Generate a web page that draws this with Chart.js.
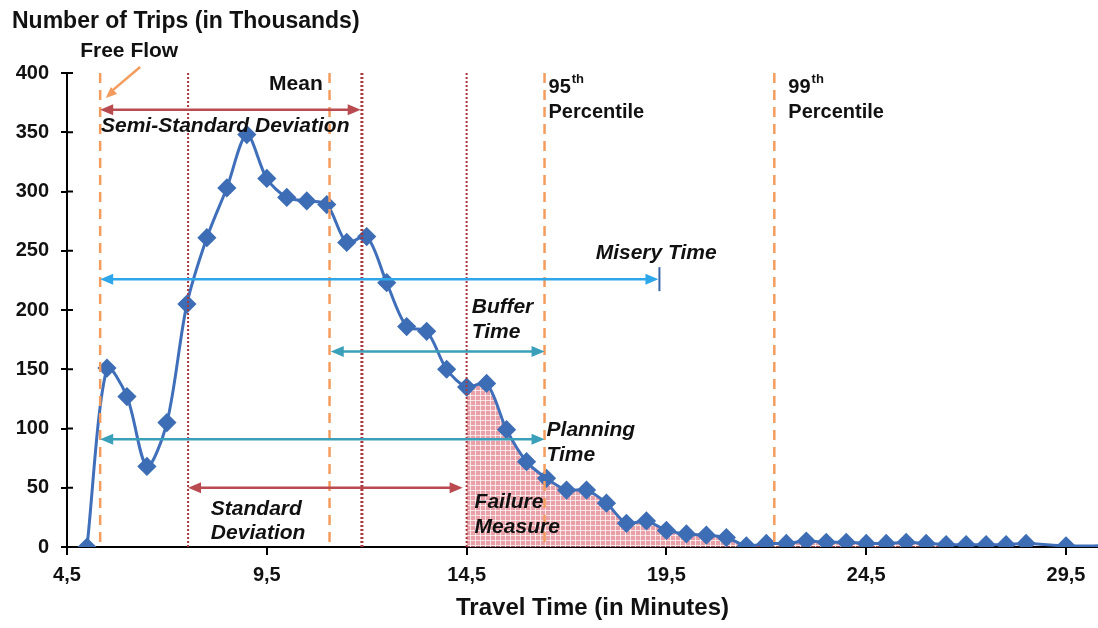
<!DOCTYPE html>
<html lang="en">
<head>
<meta charset="UTF-8">
<title>Travel Time Reliability</title>
<script src="https://cdn.jsdelivr.net/npm/chart.js"></script>
<style>
    body { margin: 0; background: #fff; }
    .wrap { width: 1098px; height: 628px; position: relative; }
</style>
</head>
<body>
<div class="wrap"><canvas id="tripsChart"></canvas></div>
<script>
// travel time (minutes) and trips (thousands)
const travelTime = [5, 5.5, 6, 6.5, 7, 7.5, 8, 8.5, 9, 9.5, 10, 10.5, 11, 11.5, 12, 12.5, 13, 13.5, 14, 14.5,
    15, 15.5, 16, 16.5, 17, 17.5, 18, 18.5, 19, 19.5, 20, 20.5, 21, 21.5, 22, 22.5, 23, 23.5, 24, 24.5,
    25, 25.5, 26, 26.5, 27, 27.5, 28, 28.5, 29.5, 30.5];
const trips = [0, 151, 127, 68, 105, 205, 261, 303, 348, 311, 295, 292, 289, 257, 262, 223, 186, 182, 150, 135,
    138, 99, 72, 58, 48, 48, 37, 20, 22, 14, 11, 10, 8, 1, 3, 3, 5, 4, 4, 3,
    3, 4, 3, 2, 2, 2, 2, 3, 1, 1];
const xTicks = [4.5, 9.5, 14.5, 19.5, 24.5, 29.5];
const yTicks = [0, 50, 100, 150, 200, 250, 300, 350, 400];

// reliability markers (minutes)
const freeFlow = 5.33;
const stdLow = 7.53;
const mean = 11.07;
const semiStdHigh = 11.88;
const stdHigh = 14.5;
const pct95 = 16.45;
const pct99 = 22.2;
const miseryEnd = 19.3;
const failureEnd = 26.5;

const ORANGE = '#f39c5e';
const DARKRED = '#a8363f';
const ARROWRED = '#b94a50';
const SKY = '#2ea6ea';
const TEAL = '#3a9fb8';

const points = travelTime.map((x, i) => ({ x: x, y: trips[i] }));
const failurePoints = points.filter(p => p.x >= stdHigh && p.x <= failureEnd);

function makePattern() {
    const c = document.createElement('canvas');
    c.width = 5; c.height = 5;
    const g = c.getContext('2d');
    g.fillStyle = 'rgba(222,112,124,0.66)';
    g.fillRect(0, 0, 5, 5);
    g.fillStyle = 'rgba(255,255,255,0.7)';
    g.fillRect(0, 0, 5, 1);
    g.fillRect(0, 0, 1, 5);
    return g.createPattern(c, 'repeat');
}

const FONT = '"Liberation Sans", Arial, sans-serif';

function arrowHead(ctx, x, y, dir, color) {
    ctx.fillStyle = color;
    ctx.beginPath();
    ctx.moveTo(x, y);
    ctx.lineTo(x - dir * 13, y - 5.5);
    ctx.lineTo(x - dir * 13, y + 5.5);
    ctx.closePath();
    ctx.fill();
}

function hArrow(ctx, xs, ys, x1, x2, y, color) {
    const p1 = xs.getPixelForValue(x1), p2 = xs.getPixelForValue(x2), py = ys.getPixelForValue(y);
    ctx.strokeStyle = color;
    ctx.lineWidth = 2.5;
    ctx.setLineDash([]);
    ctx.beginPath();
    ctx.moveTo(p1 + 6, py);
    ctx.lineTo(p2 - 6, py);
    ctx.stroke();
    arrowHead(ctx, p1, py, -1, color);
    arrowHead(ctx, p2, py, 1, color);
}

function label(ctx, xs, ys, x, y, text, italic, align) {
    ctx.font = (italic ? 'italic ' : '') + 'bold 21px ' + FONT;
    ctx.fillStyle = '#111';
    ctx.textAlign = align || 'left';
    ctx.textBaseline = 'middle';
    ctx.fillText(text, xs.getPixelForValue(x), ys.getPixelForValue(y));
}

function percentileLabel(ctx, xs, ys, x, num) {
    const px = xs.getPixelForValue(x);
    ctx.fillStyle = '#111';
    ctx.textAlign = 'left';
    ctx.textBaseline = 'middle';
    ctx.font = 'bold 20px ' + FONT;
    ctx.fillText(num, px, ys.getPixelForValue(388));
    const w = ctx.measureText(num).width;
    ctx.font = 'bold 13px ' + FONT;
    ctx.fillText('th', px + w + 1, ys.getPixelForValue(395));
    ctx.font = 'bold 20px ' + FONT;
    ctx.fillText('Percentile', px, ys.getPixelForValue(367));
}

const annotations = {
    id: 'annotations',
    afterDatasetsDraw(chart) {
        const ctx = chart.ctx;
        const xs = chart.scales.x, ys = chart.scales.y;
        const top = ys.getPixelForValue(400), bottom = ys.getPixelForValue(0);
        ctx.save();

        // vertical reference lines
        const vlines = [
            { x: freeFlow, c: ORANGE, w: 2.5, d: [10, 7] },
            { x: stdLow, c: DARKRED, w: 2, d: [2, 2] },
            { x: mean, c: ORANGE, w: 2.5, d: [10, 7] },
            { x: semiStdHigh, c: DARKRED, w: 3, d: [2, 2] },
            { x: stdHigh, c: DARKRED, w: 2, d: [2, 2] },
            { x: pct95, c: ORANGE, w: 2.5, d: [10, 7] },
            { x: pct99, c: ORANGE, w: 2.5, d: [10, 7] }
        ];
        vlines.forEach(v => {
            const px = xs.getPixelForValue(v.x);
            ctx.strokeStyle = v.c;
            ctx.lineWidth = v.w;
            ctx.setLineDash(v.d);
            ctx.beginPath();
            ctx.moveTo(px, top);
            ctx.lineTo(px, bottom);
            ctx.stroke();
        });

        // horizontal arrows
        hArrow(ctx, xs, ys, freeFlow, 11.85, 369, ARROWRED);
        hArrow(ctx, xs, ys, freeFlow, miseryEnd, 226, SKY);
        hArrow(ctx, xs, ys, 11.1, pct95, 165, TEAL);
        hArrow(ctx, xs, ys, freeFlow, pct95, 91, TEAL);
        hArrow(ctx, xs, ys, stdLow, 14.4, 50, ARROWRED);

        // misery end bar
        const mx = xs.getPixelForValue(miseryEnd) + 1, my = ys.getPixelForValue(226);
        ctx.strokeStyle = '#3565a8';
        ctx.lineWidth = 2;
        ctx.beginPath();
        ctx.moveTo(mx, my - 12);
        ctx.lineTo(mx, my + 12);
        ctx.stroke();

        // free flow pointer
        const fx1 = xs.getPixelForValue(6.33), fy1 = ys.getPixelForValue(405);
        const fx2 = xs.getPixelForValue(5.47), fy2 = ys.getPixelForValue(379);
        ctx.strokeStyle = ORANGE;
        ctx.lineWidth = 2.5;
        ctx.beginPath();
        ctx.moveTo(fx1, fy1);
        ctx.lineTo(fx2 + 5, fy2 - 6);
        ctx.stroke();
        const ang = Math.atan2(fy2 - fy1, fx2 - fx1);
        ctx.fillStyle = ORANGE;
        ctx.beginPath();
        ctx.moveTo(fx2, fy2);
        ctx.lineTo(fx2 - 12 * Math.cos(ang - 0.4), fy2 - 12 * Math.sin(ang - 0.4));
        ctx.lineTo(fx2 - 12 * Math.cos(ang + 0.4), fy2 - 12 * Math.sin(ang + 0.4));
        ctx.closePath();
        ctx.fill();

        // labels
        label(ctx, xs, ys, 4.83, 418.5, 'Free Flow', false);
        label(ctx, xs, ys, 10.9, 390.5, 'Mean', false, 'right');
        label(ctx, xs, ys, 5.35, 355, 'Semi-Standard Deviation', true);
        percentileLabel(ctx, xs, ys, 16.55, '95');
        percentileLabel(ctx, xs, ys, 22.55, '99');
        label(ctx, xs, ys, 17.73, 248, 'Misery Time', true);
        label(ctx, xs, ys, 14.63, 202.5, 'Buffer', true);
        label(ctx, xs, ys, 14.63, 181.5, 'Time', true);
        label(ctx, xs, ys, 16.5, 98.5, 'Planning', true);
        label(ctx, xs, ys, 16.5, 77.5, 'Time', true);
        label(ctx, xs, ys, 14.7, 38, 'Failure', true);
        label(ctx, xs, ys, 14.7, 17, 'Measure', true);
        label(ctx, xs, ys, 8.1, 32, 'Standard', true);
        label(ctx, xs, ys, 8.1, 12, 'Deviation', true);

        // y axis cross ticks
        ctx.setLineDash([]);
        ctx.strokeStyle = '#000';
        ctx.lineWidth = 2;
        const ax = xs.left;
        yTicks.forEach(t => {
            const py = ys.getPixelForValue(t);
            ctx.beginPath();
            ctx.moveTo(ax, py);
            ctx.lineTo(ax + 6, py);
            ctx.stroke();
        });

        // axis titles
        ctx.fillStyle = '#111';
        ctx.textBaseline = 'middle';
        ctx.textAlign = 'left';
        ctx.font = 'bold 23px ' + FONT;
        ctx.fillText('Number of Trips (in Thousands)', 12, 22);
        ctx.textAlign = 'center';
        ctx.font = 'bold 24px ' + FONT;
        ctx.fillText('Travel Time (in Minutes)', xs.getPixelForValue(17.65), 608);
        ctx.restore();
    }
};

new Chart(document.getElementById('tripsChart'), {
    type: 'line',
    data: {
        datasets: [
            {
                label: 'Trips',
                data: points,
                borderColor: '#3f6fba',
                borderWidth: 3,
                backgroundColor: '#3d6db5',
                pointStyle: 'rectRot',
                pointRadius: points.map(p => p.x > 29.5 ? 0 : 7.5),
                pointBorderColor: '#3d6db5',
                pointBackgroundColor: '#3d6db5',
                tension: 0.3,
                fill: false,
                order: 1
            },
            {
                label: 'Failure',
                data: failurePoints,
                borderColor: 'rgba(168,54,63,0.6)',
                borderWidth: 1,
                backgroundColor: makePattern(),
                pointRadius: 0,
                tension: 0.3,
                fill: 'origin',
                order: 2
            }
        ]
    },
    options: {
        responsive: true,
        maintainAspectRatio: false,
        animation: false,
        layout: { autoPadding: false, padding: { top: 73, left: 0, right: 0, bottom: 0 } },
        plugins: { legend: { display: false }, tooltip: { enabled: false } },
        scales: {
            x: {
                type: 'linear',
                min: 4.5,
                max: 30.3,
                afterBuildTicks: s => { s.ticks = xTicks.map(v => ({ value: v })); },
                afterFit: s => { s.height = 81; s.paddingLeft = 0; s.paddingRight = 0; },
                ticks: {
                    autoSkip: false,
                    maxRotation: 0,
                    padding: 8,
                    color: '#111',
                    font: { family: FONT, size: 20, weight: 'bold' },
                    callback: v => v.toFixed(1).replace('.', ',')
                },
                grid: { drawOnChartArea: false, drawTicks: true, tickLength: 8, color: '#000', lineWidth: 2 },
                border: { color: '#000', width: 2 }
            },
            y: {
                min: 0,
                max: 400,
                afterBuildTicks: s => { s.ticks = yTicks.map(v => ({ value: v })); },
                afterFit: s => { s.width = 67; },
                ticks: {
                    padding: 12,
                    color: '#111',
                    font: { family: FONT, size: 20, weight: 'bold' }
                },
                grid: { drawOnChartArea: false, drawTicks: true, tickLength: 6, color: '#000', lineWidth: 2 },
                border: { color: '#000', width: 2 }
            }
        }
    },
    plugins: [annotations]
});
</script>
</body>
</html>
